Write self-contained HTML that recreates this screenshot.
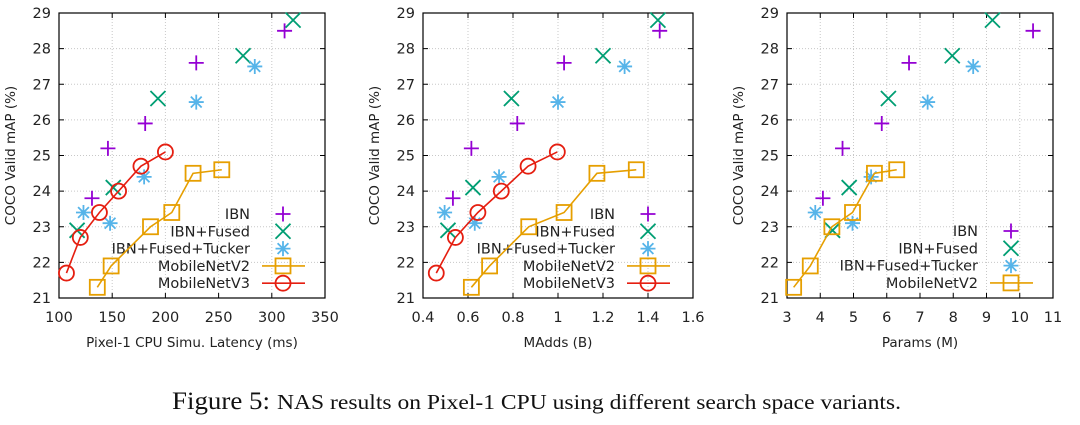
<!DOCTYPE html>
<html><head><meta charset="utf-8"><style>
body{margin:0;background:#fff;width:1080px;height:420px;overflow:hidden}
#fig text{font-family:"DejaVu Sans","Liberation Sans",sans-serif;fill:#222}
#cap text{font-family:"Liberation Serif",serif;fill:#111}
</style></head><body>
<svg id="fig" width="1080" height="420" xmlns="http://www.w3.org/2000/svg"></svg>
<script>
// Panel 1: latency (ms)
const ibnLat=[312,229,181,146,131];
const fusedLat=[320,273,193,151,117];
const tuckerLat=[284,229,180,148,123];
const v2Lat=[136,149,186,206,226,253];
const v3Lat=[107,120,138,156,177,200];
// Panel 2: MAdds (B)
const ibnMadds=[1.452,1.027,0.819,0.615,0.533];
const fusedMadds=[1.444,1.2,0.793,0.622,0.511];
const tuckerMadds=[1.296,1.0,0.738,0.63,0.496];
const v2Madds=[0.615,0.696,0.87,1.027,1.173,1.348];
const v3Madds=[0.459,0.544,0.644,0.748,0.867,0.997];
// Panel 3: Params (M)
const ibnParams=[10.4,6.67,5.85,4.67,4.08];
const fusedParams=[9.18,7.97,6.05,4.87,4.37];
const tuckerParams=[8.6,7.23,5.53,4.97,3.85];
const v2Params=[3.2,3.7,4.35,4.97,5.63,6.3];
// mAP values (shared)
const ibnMap=[28.5,27.6,25.9,25.2,23.8];
const fusedMap=[28.8,27.8,26.6,24.1,22.9];
const tuckerMap=[27.5,26.5,24.4,23.1,23.4];
const v2Map=[21.3,21.9,23.0,23.4,24.5,24.6];
const v3Map=[21.7,22.7,23.4,24.0,24.7,25.1];
const yTicks=[21,22,23,24,25,26,27,28,29];
const xTicks1=[100,150,200,250,300,350];
const xTicks2=[0.4,0.6,0.8,1,1.2,1.4,1.6];
const xTicks3=[3,4,5,6,7,8,9,10,11];

const NS="http://www.w3.org/2000/svg";
const svg=document.getElementById('fig');
function mk(tag,attrs,parent){const e=document.createElementNS(NS,tag);for(const k in attrs)e.setAttribute(k,attrs[k]);(parent||svg).appendChild(e);return e;}
const C={ibn:'#9400d3',fused:'#009e73',tucker:'#56b4e9',v2:'#e69f00',v3:'#e51e10'};

function marker(g,type,x,y){
  const c=C[type];let m;const h=7.5,sw=1.8;
  if(type==='ibn'){m=mk('path',{d:`M${x-h},${y}H${x+h}M${x},${y-h}V${y+h}`,stroke:c,'stroke-width':sw,fill:'none'},g);}
  else if(type==='fused'){m=mk('path',{d:`M${x-h},${y-h}L${x+h},${y+h}M${x-h},${y+h}L${x+h},${y-h}`,stroke:c,'stroke-width':sw,fill:'none'},g);}
  else if(type==='tucker'){const d=h*0.72;m=mk('path',{d:`M${x-h},${y}H${x+h}M${x},${y-h}V${y+h}M${x-d},${y-d}L${x+d},${y+d}M${x-d},${y+d}L${x+d},${y-d}`,stroke:c,'stroke-width':sw,fill:'none'},g);}
  else if(type==='v2'){m=mk('rect',{x:x-h,y:y-h,width:2*h,height:2*h,stroke:c,'stroke-width':sw,fill:'none'},g);}
  else {m=mk('circle',{cx:x,cy:y,r:h,stroke:c,'stroke-width':sw,fill:'none'},g);}
  return m;
}

function panel(id,L,R,xmin,xmax,xTicks,xTitle,series,legX){
  const T=13,B=298;
  const g=mk('g',{});
  
  
  const sx=v=>L+(v-xmin)/(xmax-xmin)*(R-L);
  const sy=v=>B-(v-21)/8*(B-T);
  const grid=mk('g',{},g);
  
  
  xTicks.forEach(t=>{const x=sx(t);
    mk('line',{x1:x,x2:x,y1:T,y2:B,stroke:'#c8c8c8','stroke-dasharray':'1,2','stroke-width':1},grid);
    mk('line',{x1:x,x2:x,y1:B,y2:B-5,stroke:'#000'},g);mk('line',{x1:x,x2:x,y1:T,y2:T+5,stroke:'#000'},g);
    const tx=mk('text',{x:x,y:B+24,'text-anchor':'middle','font-size':14.5},g);tx.textContent=t;
    
    });
  yTicks.forEach(t=>{const y=sy(t);
    mk('line',{x1:L,x2:R,y1:y,y2:y,stroke:'#c8c8c8','stroke-dasharray':'1,2','stroke-width':1},grid);
    mk('line',{x1:L,x2:L+5,y1:y,y2:y,stroke:'#000'},g);mk('line',{x1:R,x2:R-5,y1:y,y2:y,stroke:'#000'},g);
    const tx=mk('text',{x:L-8,y:y+5,'text-anchor':'end','font-size':14.5},g);tx.textContent=t;
    
    });
  mk('rect',{x:L,y:T,width:R-L,height:B-T,fill:'none',stroke:'#000','stroke-width':1.2},g);
  const yt=mk('text',{x:0,y:0,transform:`translate(${L-44},${(T+B)/2}) rotate(-90)`,'text-anchor':'middle','font-size':13.5},g);
  yt.textContent='COCO Valid mAP (%)';
  
  
  const xt=mk('text',{x:(L+R)/2,y:347,'text-anchor':'middle','font-size':13.5},g);
  xt.textContent=xTitle;
  
  
  const rowsStart=series.length===5?214:231;
  series.forEach((s,i)=>{
    const sg=mk('g',{},g);
    
    
    if(s.line){mk('polyline',{points:s.xs.map((v,j)=>sx(v)+','+sy(s.ys[j])).join(' '),fill:'none',stroke:C[s.type],'stroke-width':1.6},sg);}
    s.xs.forEach((v,j)=>{const m=marker(sg,s.type,sx(v),sy(s.ys[j]));
      
      });
    const ly=rowsStart+i*17.3;
    const lg=mk('g',{},g);
    
    
    const lt=mk('text',{x:legX,y:ly+5,'text-anchor':'end','font-size':14.5},lg);lt.textContent=s.label;
    if(s.line)mk('line',{x1:legX+12,x2:legX+55,y1:ly,y2:ly,stroke:C[s.type],'stroke-width':1.6},lg);
    marker(lg,s.type,legX+33,ly);
  });
}
const S=(type,label,xs,ys,line)=>({type,label,xs,ys,line});
panel('panel-latency',59,325,100,350,xTicks1,'Pixel-1 CPU Simu. Latency (ms)',[
  S('ibn','IBN',ibnLat,ibnMap,false),S('fused','IBN+Fused',fusedLat,fusedMap,false),
  S('tucker','IBN+Fused+Tucker',tuckerLat,tuckerMap,false),S('v2','MobileNetV2',v2Lat,v2Map,true),
  S('v3','MobileNetV3',v3Lat,v3Map,true)],250);
panel('panel-madds',423,693,0.4,1.6,xTicks2,'MAdds (B)',[
  S('ibn','IBN',ibnMadds,ibnMap,false),S('fused','IBN+Fused',fusedMadds,fusedMap,false),
  S('tucker','IBN+Fused+Tucker',tuckerMadds,tuckerMap,false),S('v2','MobileNetV2',v2Madds,v2Map,true),
  S('v3','MobileNetV3',v3Madds,v3Map,true)],615);
panel('panel-params',787,1053,3,11,xTicks3,'Params (M)',[
  S('ibn','IBN',ibnParams,ibnMap,false),S('fused','IBN+Fused',fusedParams,fusedMap,false),
  S('tucker','IBN+Fused+Tucker',tuckerParams,tuckerMap,false),S('v2','MobileNetV2',v2Params,v2Map,true)],978);
</script>
<svg id="cap" style="position:absolute;left:0;top:380px" width="1080" height="40" xmlns="http://www.w3.org/2000/svg">
<text x="172" y="29" font-size="25" textLength="98" lengthAdjust="spacingAndGlyphs">Figure 5:</text>
<text x="277" y="29" font-size="21" textLength="624" lengthAdjust="spacingAndGlyphs">NAS results on Pixel-1 CPU using different search space variants.</text>
</svg>
</body></html>
